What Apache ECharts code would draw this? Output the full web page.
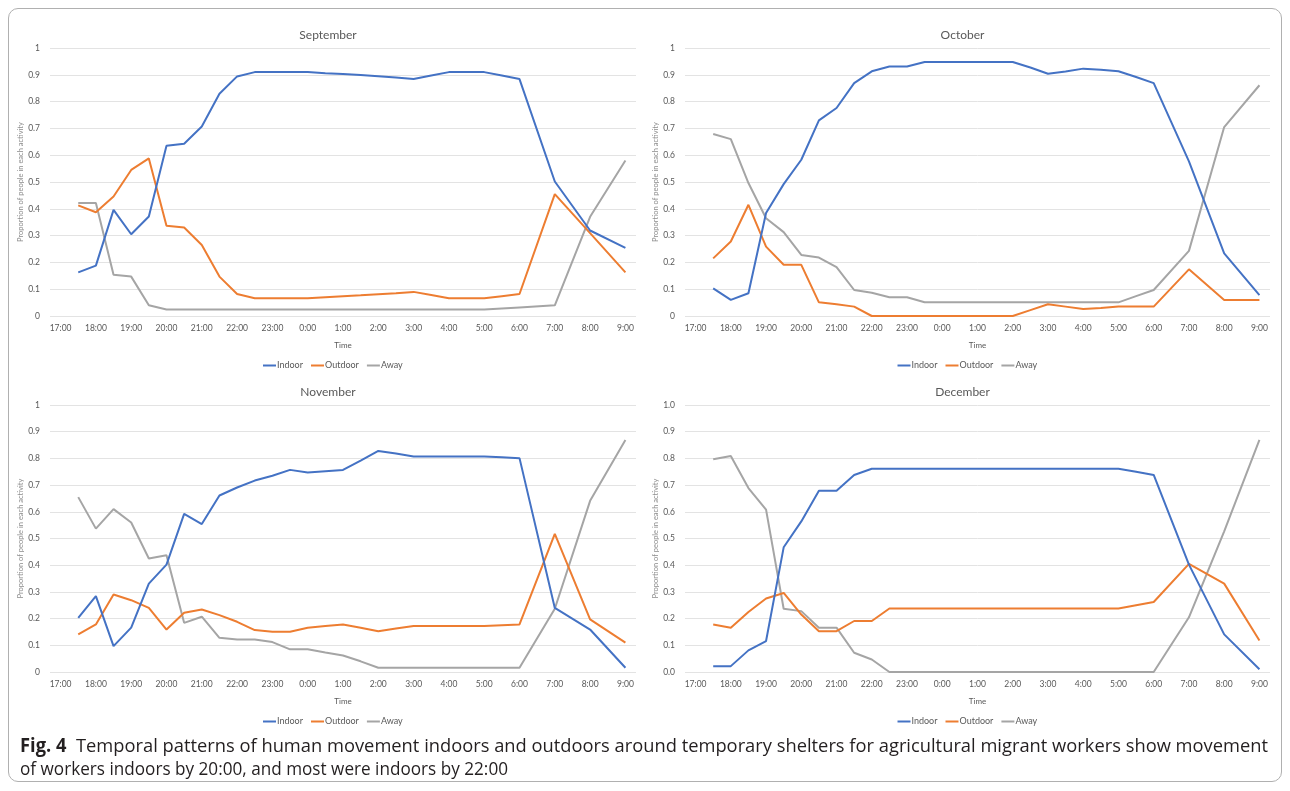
<!DOCTYPE html>
<html>
<head>
<meta charset="utf-8">
<script src="https://cdn.jsdelivr.net/npm/echarts@6/dist/echarts.min.js"></script>
<style>
  html, body { margin: 0; padding: 0; background: #fff; }
  #frame { position: absolute; left: 8px; top: 8px; width: 1274px; height: 774px; border: 1px solid #b0b0b0; border-radius: 10px; box-sizing: border-box; }
  #chart { position: absolute; left: 0; top: 0; width: 1290px; height: 791px; }
  #caption { position: absolute; left: 20px; top: 734px; font-family: "Open Sans", "Noto Sans", sans-serif; font-size: 19px; line-height: 23px; color: #231f20; white-space: nowrap; }
  #caption b { font-weight: bold; }
  #caption span { display: inline-block; transform-origin: 0 0; }
</style>
</head>
<body>
<div id="frame"></div>
<div id="chart"></div>
<div id="caption"><span id="capLine1"><b>Fig. 4</b>&nbsp; Temporal patterns of human movement indoors and outdoors around temporary shelters for agricultural migrant workers show movement</span><br><span id="capLine2">of workers indoors by 20:00, and most were indoors by 22:00</span></div>
<script>
// ---- data ----
const times = ['17:30','18:00','18:30','19:00','19:30','20:00','20:30','21:00','21:30','22:00',
               '22:30','23:00','23:30','0:00','0:30','1:00','1:30','2:00','2:30','3:00',
               '3:30','4:00','4:30','5:00','5:30','6:00','7:00','8:00','9:00'];
const tickLabels = ['17:00','18:00','19:00','20:00','21:00','22:00','23:00','0:00','1:00',
                    '2:00','3:00','4:00','5:00','6:00','7:00','8:00','9:00'];
const seriesNames = ['Indoor','Outdoor','Away'];
const monthTitles = ['September','October','November','December'];

const sepIndoor  = [0.163,0.188,0.396,0.305,0.371,0.635,0.643,0.707,0.829,0.894,
                    0.910,0.910,0.910,0.910,0.906,0.903,0.899,0.895,0.890,0.884,
                    0.897,0.910,0.910,0.910,0.897,0.884,0.502,0.319,0.254];
const sepOutdoor = [0.413,0.387,0.446,0.545,0.588,0.337,0.330,0.265,0.147,0.082,
                    0.066,0.066,0.066,0.066,0.070,0.074,0.077,0.081,0.085,0.090,
                    0.078,0.066,0.066,0.066,0.074,0.082,0.455,0.309,0.163];
const sepAway    = [0.422,0.422,0.154,0.147,0.040,0.024,0.024,0.024,0.024,0.024,
                    0.024,0.024,0.024,0.024,0.024,0.024,0.024,0.024,0.024,0.024,
                    0.024,0.024,0.024,0.024,0.028,0.032,0.040,0.370,0.580];

const octIndoor  = [0.103,0.060,0.085,0.384,0.492,0.583,0.730,0.776,0.869,0.913,
                    0.931,0.931,0.948,0.948,0.948,0.948,0.948,0.948,0.927,0.904,
                    0.912,0.923,0.919,0.913,0.892,0.869,0.577,0.234,0.078];
const octOutdoor = [0.215,0.278,0.415,0.259,0.191,0.191,0.051,0.044,0.035,0.000,
                    0.000,0.000,0.000,0.000,0.000,0.000,0.000,0.000,0.022,0.044,
                    0.035,0.026,0.030,0.035,0.035,0.035,0.174,0.060,0.060];
const octAway    = [0.679,0.660,0.496,0.365,0.313,0.228,0.218,0.182,0.097,0.087,
                    0.070,0.070,0.051,0.051,0.051,0.051,0.051,0.051,0.051,0.051,
                    0.051,0.051,0.051,0.051,0.074,0.097,0.243,0.705,0.861];

const novIndoor  = [0.203,0.284,0.097,0.166,0.331,0.402,0.592,0.554,0.661,0.691,
                    0.717,0.735,0.757,0.747,0.752,0.757,0.792,0.828,0.818,0.807,
                    0.807,0.807,0.807,0.807,0.804,0.801,0.240,0.159,0.016];
const novOutdoor = [0.141,0.178,0.290,0.269,0.240,0.159,0.222,0.234,0.213,0.188,
                    0.157,0.151,0.151,0.166,0.172,0.178,0.166,0.153,0.163,0.172,
                    0.172,0.172,0.172,0.172,0.175,0.178,0.517,0.197,0.110];
const novAway    = [0.655,0.537,0.610,0.560,0.425,0.437,0.184,0.207,0.128,0.122,
                    0.122,0.112,0.085,0.085,0.073,0.062,0.040,0.016,0.016,0.016,
                    0.016,0.016,0.016,0.016,0.016,0.016,0.237,0.641,0.869];

const decIndoor  = [0.022,0.022,0.081,0.116,0.467,0.564,0.679,0.679,0.738,0.761,
                    0.761,0.761,0.761,0.761,0.761,0.761,0.761,0.761,0.761,0.761,
                    0.761,0.761,0.761,0.761,0.750,0.738,0.402,0.141,0.010];
const decOutdoor = [0.178,0.166,0.225,0.275,0.296,0.215,0.153,0.153,0.191,0.191,
                    0.238,0.238,0.238,0.238,0.238,0.238,0.238,0.238,0.238,0.238,
                    0.238,0.238,0.238,0.238,0.250,0.262,0.405,0.331,0.118];
const decAway    = [0.797,0.809,0.689,0.608,0.237,0.228,0.166,0.166,0.072,0.047,
                    0.000,0.000,0.000,0.000,0.000,0.000,0.000,0.000,0.000,0.000,
                    0.000,0.000,0.000,0.000,0.000,0.000,0.205,0.527,0.869];

// ---- layout / style ----
const colors = ['#4472C4', '#ED7D31', '#A5A5A5'];
const panelData = [
  [sepIndoor, sepOutdoor, sepAway],
  [octIndoor, octOutdoor, octAway],
  [novIndoor, novOutdoor, novAway],
  [decIndoor, decOutdoor, decAway]
];
const grids = [
  { left: 50,  top: 48,  width: 586, height: 268 },
  { left: 685, top: 48,  width: 585, height: 268 },
  { left: 50,  top: 405, width: 586, height: 267 },
  { left: 685, top: 405, width: 585, height: 267 }
];
const FONT = 'Lato, "Open Sans", sans-serif';
const textGray = '#595959';

function hoursAfter17(t) {
  const p = t.split(':').map(Number);
  let v = p[0] + p[1] / 60 - 17;
  if (v < 0) v += 24;
  return v;
}
const xs = times.map(hoursAfter17);
const tickValues = tickLabels.map(hoursAfter17);

const chart = echarts.init(document.getElementById('chart'), null, { renderer: 'canvas' });

const option = {
  animation: false,
  color: colors,
  textStyle: { fontFamily: FONT },
  title: [], legend: [], grid: [], xAxis: [], yAxis: [], series: []
};

grids.forEach((g, i) => {
  const cx = g.left + g.width / 2;
  option.grid.push(Object.assign({ containLabel: false }, g));
  option.title.push({
    text: monthTitles[i], left: cx - 20, top: g.top - 24, textAlign: 'center',
    textStyle: { fontFamily: FONT, fontSize: 12, fontWeight: 'normal', color: textGray }
  });
  option.legend.push({
    data: seriesNames, left: cx - 85, top: g.top + g.height + 40, orient: 'horizontal',
    icon: 'rect', itemWidth: 13, itemHeight: 2, itemGap: 8,
    textStyle: { fontFamily: FONT, fontSize: 9, color: textGray, padding: [0, 0, 0, -4] },
    selectedMode: false
  });
  option.xAxis.push({
    type: 'value', gridIndex: i, min: -0.3, max: 16.3,
    name: 'Time', nameLocation: 'middle', nameGap: 25,
    nameTextStyle: { fontFamily: FONT, fontSize: 8, color: textGray },
    axisLine: { show: false }, axisTick: { show: false }, splitLine: { show: false },
    axisLabel: {
      customValues: tickValues,
      formatter: v => tickLabels[tickValues.indexOf(v)] ?? '',
      fontFamily: FONT, fontSize: 8.5, color: textGray, margin: 8
    }
  });
  option.yAxis.push({
    type: 'value', gridIndex: i, min: 0, max: 1, interval: 0.1,
    name: 'Proportion of people in each activity', nameLocation: 'middle', nameGap: i % 2 === 0 ? 20 : 23,
    nameTextStyle: { fontFamily: FONT, fontSize: 7.5, color: '#8c8c8c' },
    axisLine: { show: false }, axisTick: { show: false },
    splitLine: { lineStyle: { color: '#e3e3e3', width: 1 } },
    axisLabel: {
      fontFamily: FONT, fontSize: 8.5, color: textGray, margin: 10,
      formatter: v => (i === 3 ? v.toFixed(1) : (v === 0 ? '0' : (Math.abs(v - 1) < 1e-9 ? '1' : v.toFixed(1))))
    }
  });
  panelData[i].forEach((vals, k) => {
    option.series.push({
      name: seriesNames[k], type: 'line', xAxisIndex: i, yAxisIndex: i,
      data: vals.map((v, j) => [xs[j], v]),
      symbol: 'none', lineStyle: { width: 2, color: colors[k] },
      itemStyle: { color: colors[k] }, z: 3 - k
    });
  });
});

chart.setOption(option);

// fit each caption line to the reference line widths
function fitLine(id, target) {
  const el = document.getElementById(id);
  const w = el.getBoundingClientRect().width;
  el.style.transform = 'scaleX(' + (target / w) + ')';
}
fitLine('capLine1', 1248);
fitLine('capLine2', 488);
</script>
</body>
</html>
